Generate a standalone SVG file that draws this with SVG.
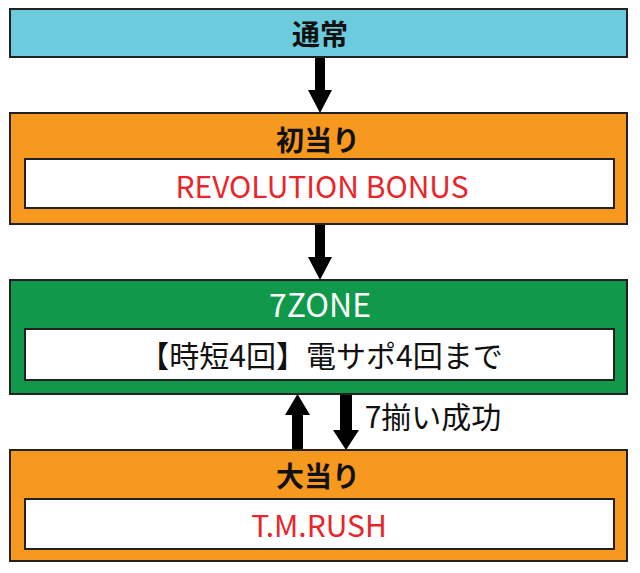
<svg xmlns="http://www.w3.org/2000/svg" width="640" height="573" viewBox="0 0 640 573">
<style>
.box{stroke:#222;stroke-width:2}
.inner{fill:#fff;stroke:#222;stroke-width:2}
.t{font-family:"Noto Sans CJK JP","Noto Sans",sans-serif;text-anchor:middle}
.title{font-size:28px;font-weight:bold;fill:#111}
.red{font-size:30px;fill:#e8262b}
.blk{font-size:30px;fill:#111}
.arrow{fill:#000}
</style>
<rect width="640" height="573" fill="#fff"/>
<g id="connectors">
<path class="arrow" d="M315,57 H325 V90 H332 L320,113 L308,90 H315 Z"/>
<path class="arrow" d="M315,224 H325 V257 H332 L320,280 L308,257 H315 Z"/>
<path class="arrow" d="M292,450 H303 V415 H310 L297.5,394 L285,415 H292 Z"/>
<path class="arrow" d="M340,394 H352 V430 H359 L346,450 L333,430 H340 Z"/>
<text class="t blk" x="433" y="428">7揃い成功</text>
</g>
<g id="normal">
<rect class="box" x="10" y="9" width="617" height="48" fill="#6ccbdc"/>
<text class="t title" x="320" y="45">通常</text>
</g>
<g id="first-hit">
<rect class="box" x="10" y="113" width="617" height="111" fill="#f7991f"/>
<text class="t title" x="318" y="151">初当り</text>
<rect class="inner" x="25" y="159" width="589" height="49"/>
<text class="t red" x="322" y="198">REVOLUTION BONUS</text>
</g>
<g id="zone">
<rect class="box" x="10" y="280" width="617" height="114" fill="#10994a"/>
<text class="t" x="320" y="317" font-size="32" fill="#fff">7ZONE</text>
<rect class="inner" x="25" y="329" width="589" height="51"/>
<text class="t blk" x="321" y="367">【時短4回】電サポ4回まで</text>
</g>
<g id="big-hit">
<rect class="box" x="10" y="450" width="617" height="111" fill="#f7991f"/>
<text class="t title" x="318" y="487">大当り</text>
<rect class="inner" x="25" y="499" width="589" height="50"/>
<text class="t red" x="319" y="537">T.M.RUSH</text>
</g>
</svg>
